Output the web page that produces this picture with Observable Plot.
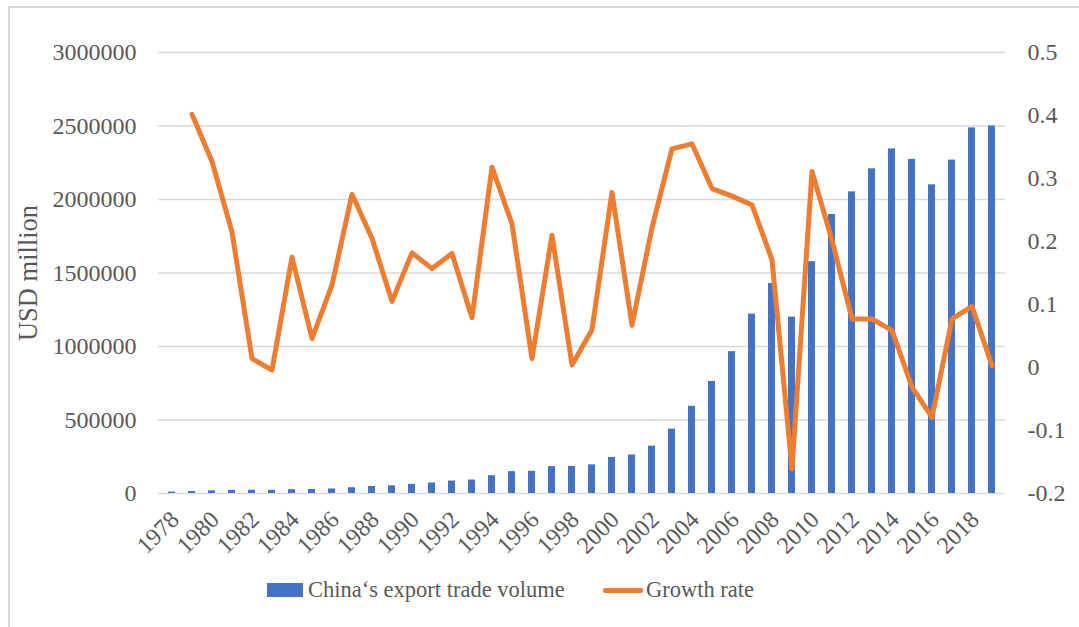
<!DOCTYPE html>
<html>
<head>
<meta charset="utf-8">
<script src="https://cdn.jsdelivr.net/npm/d3@7"></script>
<script src="https://cdn.jsdelivr.net/npm/@observablehq/plot@0.6"></script>
<style>
  html, body { margin: 0; padding: 0; background: #fff; }
  #wrap { position: relative; width: 1079px; height: 627px; overflow: hidden; font-family: "Liberation Serif", "Times New Roman", serif; color: #595959; }
  #frame { position: absolute; left: 8px; top: 6px; width: 1200px; height: 800px; border-top: 2px solid #D9D9D9; border-left: 2px solid #D9D9D9; box-sizing: border-box; }
  #chart { position: absolute; left: 0; top: 0; }
  #chart svg, #chart svg text { font-family: "Liberation Serif", "Times New Roman", serif !important; }
  .lg { position: absolute; font-size: 22.5px; white-space: nowrap; line-height: normal; }
</style>
</head>
<body>
<div id="wrap">
  <div id="frame"></div>
  <div id="chart"></div>
  <div style="position:absolute;left:267px;top:583px;width:36px;height:14px;background:#4472C4"></div>
  <div class="lg" style="left:308px;top:577px">China‘s export trade volume</div>
  <div style="position:absolute;left:603px;top:588px;width:40px;height:4.5px;background:#ED7D31;border-radius:2px"></div>
  <div class="lg" style="left:646px;top:577px">Growth rate</div>
</div>
<script>
const years = [1978,1979,1980,1981,1982,1983,1984,1985,1986,1987,1988,1989,1990,1991,1992,1993,1994,1995,1996,1997,1998,1999,2000,2001,2002,2003,2004,2005,2006,2007,2008,2009,2010,2011,2012,2013,2014,2015,2016,2017,2018,2019];
const exportsUSDm = [9800,13700,18100,22000,22300,22200,26100,27400,30900,39400,47500,52500,62100,71800,84900,91700,121000,148800,151000,182800,183700,194900,245000,262000,322000,438000,593000,762000,965000,1220000,1428000,1200000,1577000,1898000,2052000,2209000,2344000,2273000,2100000,2268000,2487000,2500000];
const growthRate = [null,0.402,0.327,0.215,0.014,-0.004,0.175,0.046,0.131,0.275,0.205,0.105,0.182,0.157,0.181,0.079,0.318,0.228,0.014,0.210,0.004,0.060,0.278,0.067,0.222,0.347,0.355,0.284,0.272,0.258,0.171,-0.161,0.311,0.202,0.077,0.077,0.059,-0.031,-0.079,0.077,0.097,0.003];
const leftTicks = [0,500000,1000000,1500000,2000000,2500000,3000000];
const rightTicks = [-0.2,-0.1,0,0.1,0.2,0.3,0.4,0.5];
const xLabelYears = [1978,1980,1982,1984,1986,1988,1990,1992,1994,1996,1998,2000,2002,2004,2006,2008,2010,2012,2014,2016,2018];

const table = years.map((year, i) => ({year, exports: exportsUSDm[i], growth: growthRate[i]}));
const toLeft = d3.scaleLinear([-0.2, 0.5], [0, 3000000]);

const chart = Plot.plot({
  width: 1079,
  height: 560,
  marginTop: 52,
  marginBottom: 67,
  marginLeft: 158,
  marginRight: 74,
  style: {fontFamily: "'Liberation Serif', 'Times New Roman', serif", fontSize: "24px", color: "#595959", background: "transparent"},
  x: {type: "band", domain: years, paddingInner: 0.67, paddingOuter: 0.335},
  y: {domain: [0, 3000000]},
  marks: [
    Plot.gridY(leftTicks, {stroke: "#D9D9D9", strokeOpacity: 1, strokeWidth: 1.3}),
    Plot.barY(table, {x: "year", y: "exports", fill: "#4472C4"}),
    Plot.lineY(table.filter(d => d.growth != null), {x: "year", y: d => toLeft(d.growth), stroke: "#ED7D31", strokeWidth: 5, strokeLinejoin: "round", strokeLinecap: "round"}),
    Plot.axisY(leftTicks, {anchor: "left", tickSize: 0, tickPadding: 22, tickFormat: d => String(d), label: null}),
    Plot.axisY(rightTicks.map(toLeft), {anchor: "right", tickSize: 0, tickPadding: 22, tickFormat: d => String(+toLeft.invert(d).toFixed(1)), label: null}),
    Plot.axisX(xLabelYears, {tickRotate: -45, tickSize: 0, tickPadding: 10, dy: 12, dx: 3, tickFormat: d => String(d), label: null}),
    Plot.text(["USD million"], {frameAnchor: "left", dx: -130, rotate: -90, fontSize: 26.5, lineAnchor: "middle", textAnchor: "middle"})
  ]
});
document.getElementById("chart").appendChild(chart);
</script>
</body>
</html>
